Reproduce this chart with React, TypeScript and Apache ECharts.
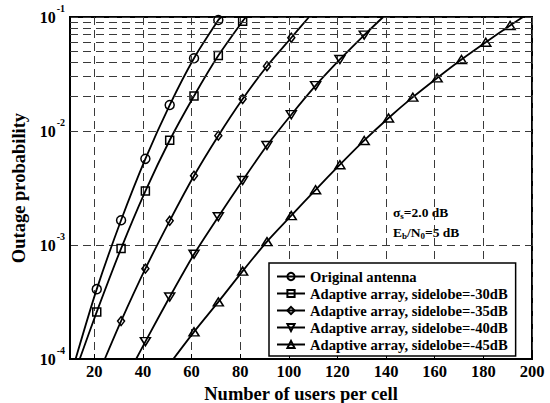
import React, { useEffect, useRef } from 'react';
import * as echarts from 'echarts';

const FONT = '"Liberation Serif", "Times New Roman", serif';

const xTicks = [20, 40, 60, 80, 100, 120, 140, 160, 180, 200];
const yMinorLines = [
  2e-4, 3e-4, 4e-4, 5e-4, 6e-4, 7e-4, 8e-4, 9e-4,
  2e-3, 3e-3, 4e-3, 5e-3, 6e-3, 7e-3, 8e-3, 9e-3,
  2e-2, 3e-2, 4e-2, 5e-2, 6e-2, 7e-2, 8e-2, 9e-2,
];

const seriesNames = [
  'Original antenna',
  'Adaptive array, sidelobe=-30dB',
  'Adaptive array, sidelobe=-35dB',
  'Adaptive array, sidelobe=-40dB',
  'Adaptive array, sidelobe=-45dB',
];

// first and last points are where each curve leaves the plot (no marker)
const origX = [12.3, 21, 31, 41, 51, 61, 71, 72.2];
const origY = [1e-4, 4.1e-4, 1.65e-3, 5.7e-3, 0.0169, 0.0435, 0.094, 0.1];

const sl30X = [14, 21, 31, 41, 51, 61, 71, 81, 82.4];
const sl30Y = [1e-4, 2.59e-4, 9.3e-4, 2.97e-3, 8.3e-3, 0.0203, 0.0459, 0.092, 0.1];

const sl35X = [24.3, 31, 41, 51, 61, 71, 81, 91, 101, 108.3];
const sl35Y = [1e-4, 2.15e-4, 6.2e-4, 1.63e-3, 4.05e-3, 9.1e-3, 0.0191, 0.037, 0.0658, 0.1];

const sl40X = [37.2, 41, 51, 61, 71, 81, 91, 101, 111, 121, 131, 138.8];
const sl40Y = [1e-4, 1.42e-4, 3.5e-4, 8.3e-4, 1.77e-3, 3.68e-3, 7.46e-3, 0.0139, 0.025, 0.0424, 0.0694, 0.1];

const sl45X = [52.5, 61, 71, 81, 91, 101, 111, 121, 131, 141, 151, 161, 171, 181, 191, 196.3];
const sl45Y = [1e-4, 1.73e-4, 3.17e-4, 5.9e-4, 1.07e-3, 1.81e-3, 3.05e-3, 5.06e-3, 8.26e-3, 0.013, 0.0198, 0.0292, 0.0424, 0.0601, 0.0843, 0.1];

function makeSeries(name: string, xs: number[], ys: number[], symbol: string, size: any, rotate = 0) {
  return {
    name,
    type: 'line',
    smooth: 0.25,
    symbol,
    symbolSize: size,
    symbolRotate: rotate,
    showAllSymbol: true,
    clip: true,
    z: 3,
    silent: true,
    lineStyle: { color: '#000', width: 1.8 },
    itemStyle: { color: 'rgba(0,0,0,0)', borderColor: '#000', borderWidth: 1.5 },
    emphasis: { disabled: true },
    data: xs.map((x, i) =>
      i === 0 || i === xs.length - 1 ? { value: [x, ys[i]], symbol: 'none' } : [x, ys[i]]
    ),
  };
}

export default function App() {
  const ref = useRef<HTMLDivElement>(null);
  useEffect(() => {
    const chart = echarts.init(ref.current!, null, { renderer: 'svg' });
    const dash = { type: [8, 5], color: '#3a3a3a', width: 1 };
    const nameStyle = { fontFamily: FONT, fontWeight: 'bold', fontSize: 18.5, color: '#000' };
    const noteRich = {
      n: { fontFamily: FONT, fontWeight: 'bold', fontSize: 13.5, fill: '#000' },
      sub: { fontFamily: FONT, fontWeight: 'bold', fontSize: 9, fill: '#000', padding: [8, 0, 0, 0] },
    };
    chart.setOption({
      animation: false,
      backgroundColor: '#fff',
      grid: {
        left: 70, right: 18, top: 17, bottom: 44,
        containLabel: false,
        outerBoundsMode: 'none',
        show: true, borderColor: '#000', borderWidth: 2, backgroundColor: 'transparent',
      },
      xAxis: {
        type: 'value',
        min: 10,
        max: 200,
        name: 'Number of users per cell',
        nameLocation: 'middle',
        nameGap: 16,
        nameTextStyle: nameStyle,
        axisLine: { lineStyle: { color: '#000', width: 2 } },
        axisTick: { show: true, inside: true, length: 5, customValues: xTicks, lineStyle: { color: '#000' } },
        axisLabel: { customValues: xTicks, color: '#000', fontFamily: FONT, fontWeight: 'bold', fontSize: 16.5, margin: 4 },
        splitLine: { show: true, lineStyle: dash },
      },
      yAxis: {
        type: 'log',
        logBase: 10,
        min: 1e-4,
        max: 1e-1,
        name: 'Outage probability',
        nameLocation: 'middle',
        nameGap: 37,
        nameTextStyle: nameStyle,
        axisLine: { lineStyle: { color: '#000', width: 2 } },
        axisTick: { show: false },
        axisLabel: {
          margin: 5,
          formatter: (v: number) => `{b|10}{s|${Math.round(Math.log10(v))}}`,
          rich: {
            b: { fontFamily: FONT, fontWeight: 'bold', fontSize: 16, color: '#000', lineHeight: 17 },
            s: { fontFamily: FONT, fontWeight: 'bold', fontSize: 10, color: '#000', lineHeight: 10, padding: [0, 0, 18, 1] },
          },
        },
        splitLine: { show: true, lineStyle: dash },
      },
      legend: {
        orient: 'vertical',
        left: 269,
        top: 263,
        data: seriesNames,
        selectedMode: false,
        backgroundColor: '#fff',
        borderColor: '#000',
        borderWidth: 1.5,
        borderRadius: 0,
        padding: [6, 8, 4, 7],
        itemWidth: 28,
        itemHeight: 9,
        itemGap: 2,
        textStyle: { fontFamily: FONT, fontWeight: 'bold', fontSize: 14.6, color: '#000' },
      },
      graphic: [
        {
          type: 'text',
          left: 393,
          top: 205,
          silent: true,
          style: { text: '{n|σ}{sub|s}{n|=2.0 dB}', rich: noteRich },
        },
        {
          type: 'text',
          left: 393,
          top: 225,
          silent: true,
          style: { text: '{n|E}{sub|b}{n|/N}{sub|0}{n|=5 dB}', rich: noteRich },
        },
      ],
      series: [
        {
          type: 'line',
          data: [],
          silent: true,
          z: 1,
          markLine: {
            silent: true,
            symbol: ['none', 'none'],
            label: { show: false },
            lineStyle: dash,
            emphasis: { disabled: true },
            data: yMinorLines.map((v) => ({ yAxis: v })),
          },
        },
        makeSeries(seriesNames[0], origX, origY, 'circle', 9),
        makeSeries(seriesNames[1], sl30X, sl30Y, 'rect', 8),
        makeSeries(seriesNames[2], sl35X, sl35Y, 'diamond', [7, 9]),
        makeSeries(seriesNames[3], sl40X, sl40Y, 'triangle', [10, 8], 180),
        makeSeries(seriesNames[4], sl45X, sl45Y, 'triangle', [10, 8]),
      ],
    });
    return () => chart.dispose();
  }, []);
  return <div ref={ref} style={{ position: 'fixed', left: 0, top: 0, width: 550, height: 403 }} />;
}
